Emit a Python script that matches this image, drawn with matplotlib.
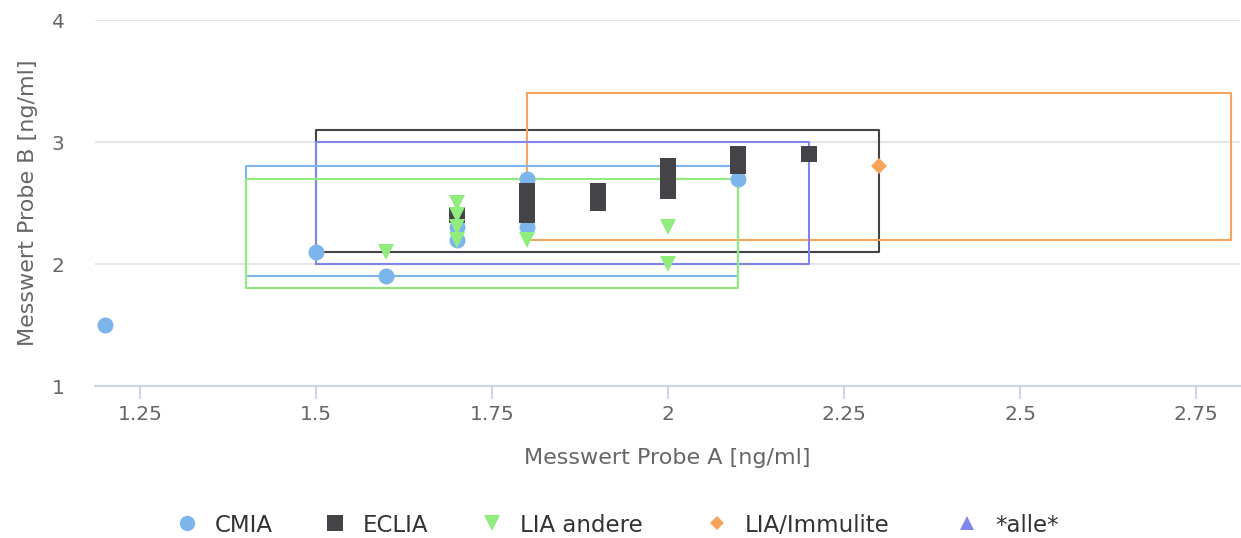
import matplotlib.pyplot as plt
from matplotlib.lines import Line2D

plt.rcParams['font.family'] = ['DejaVu Sans']

# Messwerte je Methode (Probe A, Probe B)
cmia_x = [1.2, 1.5, 1.6, 1.7, 1.7, 1.8, 1.8, 2.1]
cmia_y = [1.5, 2.1, 1.9, 2.3, 2.2, 2.7, 2.3, 2.7]

eclia_x = [1.7, 1.8, 1.8, 1.8, 1.9, 1.9, 2.0, 2.0, 2.0, 2.1, 2.1, 2.2]
eclia_y = [2.4, 2.6, 2.5, 2.4, 2.6, 2.5, 2.8, 2.7, 2.6, 2.9, 2.8, 2.9]

lia_x = [1.6, 1.7, 1.7, 1.7, 1.7, 1.8, 2.0, 2.0]
lia_y = [2.1, 2.5, 2.4, 2.3, 2.2, 2.2, 2.3, 2.0]

imm_x = [2.3]
imm_y = [2.8]

# Bereiche (x0, x1, y0, y1) je Methode
eclia_box = (1.5, 2.3, 2.1, 3.1)
imm_box = (1.8, 2.8, 2.2, 3.4)
alle_box = (1.5, 2.2, 2.0, 3.0)
cmia_box = (1.4, 2.1, 1.9, 2.8)
lia_box = (1.4, 2.1, 1.8, 2.7)

labels = ['CMIA', 'ECLIA', 'LIA andere', 'LIA/Immulite', '*alle*']

c_cmia = '#7cb5ec'
c_eclia = '#434348'
c_lia = '#90ed7d'
c_imm = '#f7a35c'
c_alle = '#8085e9'

W, H = 1241, 538
fig = plt.figure(figsize=(W / 100, H / 100), dpi=100)
ax = fig.add_axes([95 / W, 1 - 386 / H, 1145 / W, 366 / H])


def box(b, color, z):
    x0, x1, y0, y1 = b
    ax.plot([x0, x1, x1, x0, x0], [y0, y0, y1, y1, y0], color=color, lw=1.5, zorder=z)


box(eclia_box, c_eclia, 2)
box(imm_box, c_imm, 2.1)
box(alle_box, c_alle, 2.2)
box(cmia_box, c_cmia, 2.3)
box(lia_box, c_lia, 2.4)

ax.plot(cmia_x, cmia_y, 'o', color=c_cmia, ms=11.5, mew=0, zorder=4)
ax.plot(eclia_x, eclia_y, 's', color=c_eclia, ms=12, mew=0, zorder=5)
ax.plot(lia_x, lia_y, 'v', color=c_lia, ms=12, mew=0, zorder=6)
ax.plot(imm_x, imm_y, 'D', color=c_imm, ms=8, mew=0, zorder=6)

ax.set_xlim(1.186, 2.8125)
ax.set_ylim(1, 4)
ax.set_xticks([1.25, 1.5, 1.75, 2, 2.25, 2.5, 2.75])
ax.set_xticklabels(['1.25', '1.5', '1.75', '2', '2.25', '2.5', '2.75'])
ax.set_yticks([1, 2, 3, 4])
ax.set_yticklabels(['1', '2', '3', '4'])

ax.grid(axis='y', color='#e6e6e6', lw=1.5)
ax.set_axisbelow(True)
for s in ['top', 'right', 'left']:
    ax.spines[s].set_visible(False)
ax.spines['bottom'].set_color('#ccd6eb')
ax.spines['bottom'].set_linewidth(1.5)
ax.tick_params(axis='x', colors='#666666', length=9, width=1.5, color='#ccd6eb',
               labelsize=14.5, pad=5)
ax.tick_params(axis='y', colors='#666666', length=0, labelsize=14.5, pad=22)

ax.set_xlabel('Messwert Probe A [ng/ml]', color='#666666', fontsize=16, labelpad=17)
ax.set_ylabel('Messwert Probe B [ng/ml]', color='#666666', fontsize=16, labelpad=10)

# Legende unten, Eintraege einzeln gesetzt
legend_items = [
    ('o', c_cmia, 11, 187),
    ('s', c_eclia, 11, 335),
    ('v', c_lia, 11.5, 492),
    ('D', c_imm, 7.5, 717),
    ('^', c_alle, 10, 967),
]
ly = 1 - 523 / H
for (m, c, ms, px), lab in zip(legend_items, labels):
    fig.add_artist(Line2D([px / W], [ly], ls='', marker=m, color=c, ms=ms, mew=0,
                          transform=fig.transFigure))
    fig.text((px + 28) / W, ly, lab, color='#333333', fontsize=16.5,
             ha='left', va='center_baseline')

fig.savefig('out.png', dpi=100)
